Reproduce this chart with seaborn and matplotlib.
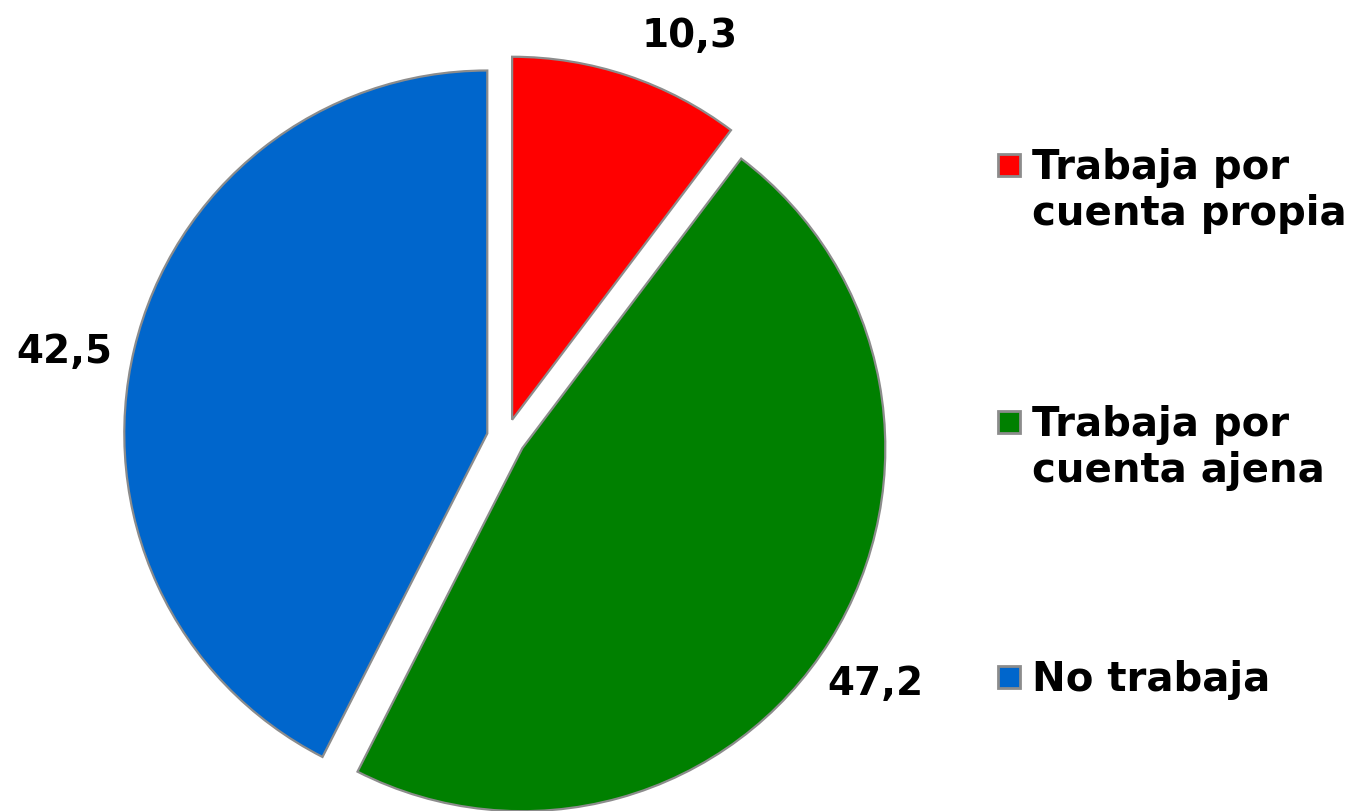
import matplotlib
matplotlib.use("Agg")
import matplotlib.pyplot as plt
import seaborn as sns
from matplotlib.patches import Rectangle

# Data
categories = ["Trabaja por\ncuenta propia", "Trabaja por\ncuenta ajena", "No trabaja"]
values = [10.3, 47.2, 42.5]
colors = ["#FF0000", "#008000", "#0066CC"]

sns.set_theme(style="white")
plt.rcParams['font.family'] = ['DejaVu Sans']

W, H = 1355, 811
fig = plt.figure(figsize=(W / 100, H / 100), dpi=100)
ax = fig.add_axes([0, 0, 1, 1])

# pie centre (506, 438) px, radius 363 px
cx, cy, r = 506, 438, 363
def px(x, y):
    return (x - cx) / r, (cy - y) / r

wedges, texts = ax.pie(values, colors=sns.color_palette(colors), startangle=90, counterclock=False,
                       explode=[0.053] * 3,
                       labels=[f"{v:.1f}".replace(".", ",") for v in values],
                       wedgeprops=dict(edgecolor="#8c8c8c", linewidth=1.6),
                       textprops=dict(fontsize=28, fontweight="bold", color="black"))

# value label positions (baseline, centred)
label_px = [(690, 47), (875, 695), (64, 363)]
for t, (x, y) in zip(texts, label_px):
    t.set_position(px(x, y))
    t.set_ha("center")
    t.set_va("baseline")

ax.set_xlim(px(0, 0)[0], px(W, 0)[0])
ax.set_ylim(px(0, H)[1], px(0, 0)[1])
ax.set_aspect("auto")
ax.axis("off")

# legend drawn by hand so the marker sits on the first line
legend_y = [165, 422, 677]
for lab, col, y in zip(categories, colors, legend_y):
    fig.patches.append(Rectangle((998 / W, 1 - (y + 11) / H), 22 / W, 22 / H,
                                 transform=fig.transFigure, facecolor=col,
                                 edgecolor="#8c8c8c", linewidth=2))
    fig.text(1032 / W, 1 - (y - 17) / H, lab, fontsize=29, fontweight="bold",
             color="black", ha="left", va="top", linespacing=1.2)

fig.savefig("out.png", dpi=100)
